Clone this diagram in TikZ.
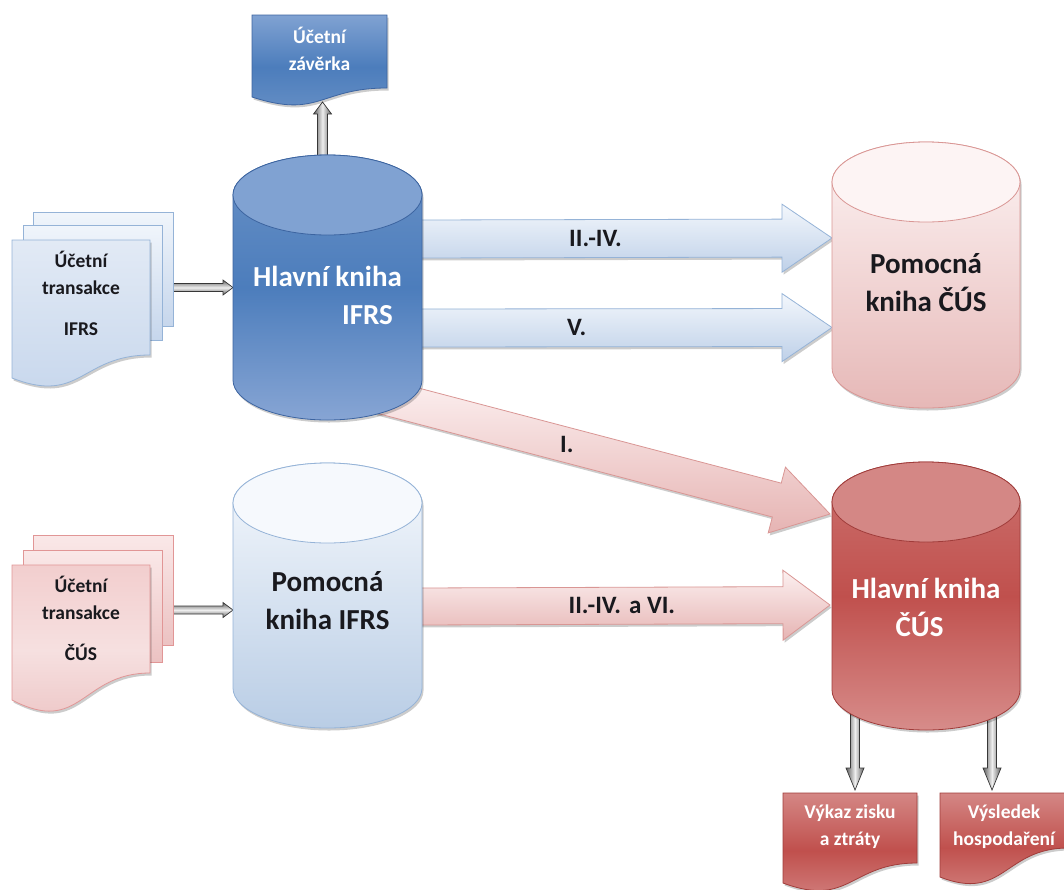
\documentclass[tikz,border=0pt]{standalone}
\usepackage{fontspec}
\setmainfont{Carlito}
\usetikzlibrary{calc,shadows}

% palette
\definecolor{inkdark}{RGB}{25,25,30}
\definecolor{blueedge}{RGB}{60,100,160}
\definecolor{bluetop}{RGB}{128,162,210}
\definecolor{bluebodyT}{RGB}{105,145,198}
\definecolor{bluebodyM}{RGB}{76,125,188}
\definecolor{bluebodyB}{RGB}{135,165,212}
\definecolor{paleblueedge}{RGB}{149,179,215}
\definecolor{paleblueT}{RGB}{246,249,253}
\definecolor{paleblueB}{RGB}{185,205,229}
\definecolor{rededge}{RGB}{160,60,58}
\definecolor{redtop}{RGB}{212,135,133}
\definecolor{redbodyT}{RGB}{205,115,112}
\definecolor{redbodyM}{RGB}{192,80,77}
\definecolor{redbodyB}{RGB}{215,140,138}
\definecolor{paleredge}{RGB}{217,150,148}
\definecolor{paleredT}{RGB}{253,244,244}
\definecolor{paleredB}{RGB}{230,184,183}
\definecolor{arrblueT}{RGB}{243,247,252}
\definecolor{arrblueB}{RGB}{190,208,232}
\definecolor{arrpinkT}{RGB}{252,240,240}
\definecolor{arrpinkB}{RGB}{230,180,179}
\definecolor{arrdark}{RGB}{95,95,95}
\definecolor{arrlite}{RGB}{238,238,238}
\definecolor{arrline}{RGB}{55,55,55}
\definecolor{pageblueT}{RGB}{226,234,245}
\definecolor{pageblueB}{RGB}{198,214,236}
\definecolor{pagebluebackT}{RGB}{240,245,251}
\definecolor{pageredT}{RGB}{242,206,206}
\definecolor{pageredM}{RGB}{246,224,224}
\definecolor{pageredB}{RGB}{236,194,194}
\definecolor{pageredbackT}{RGB}{250,232,232}
\definecolor{pageredge}{RGB}{225,150,150}

% cylinder drawn on the box of node #1: #2 x radius, #3 y radius, #4 body style, #5 lid style
\newcommand\cylshape[5]{%
  \path[#4] ($(#1.north west)+(0,-#3)$) -- ($(#1.south west)+(0,#3)$)
    arc[start angle=180, end angle=360, x radius=#2, y radius=#3]
    -- ($(#1.north east)+(0,-#3)$)
    arc[start angle=0, end angle=180, x radius=#2, y radius=#3] -- cycle;
  \path[#5] ($(#1.north)+(0,-#3)$) ellipse[x radius=#2, y radius=#3];
}

% document sheet with a wavy lower edge on the box of node #2:
% #3 rise of the right end above the bottom, #4 dip of the wave
\newcommand\docshape[4]{%
  \path[#1] (#2.north west) -- (#2.north east) -- ($(#2.south east)+(0,#3)$)
    .. controls ($(#2.south)+(0,#3)$) and ($(#2.south)+(0,-#4)$) .. (#2.south west) -- cycle;
}

% block arrow from #2 to the tip #3: #4 half shaft, #5 half head, #6 head length
\newcommand\blockarrow[6]{%
  \coordinate (ba-h) at ($(#3)!#6!(#2)$);
  \path[#1] ($(#2)!#4!90:(#3)$) -- ($(ba-h)!#4!90:(#3)$) -- ($(ba-h)!#5!90:(#3)$) -- (#3)
    -- ($(ba-h)!#5!-90:(#3)$) -- ($(ba-h)!#4!-90:(#3)$) -- ($(#2)!#4!-90:(#3)$) -- cycle;
}

\begin{document}
\begin{tikzpicture}[x=1pt,y=1pt,
  geom/.style={rectangle, inner sep=0pt, outer sep=0pt},
  softshadow/.style={drop shadow={shadow xshift=1.5pt, shadow yshift=-2.5pt, opacity=0.2, fill=black}},
  cyltxt/.style={font=\fontsize{29}{38}\selectfont\bfseries, inner sep=0pt},
  doctxt/.style={font=\fontsize{19.5}{27}\selectfont\bfseries, inner sep=0pt, align=center},
  arrlbl/.style={font=\fontsize{25}{27}\selectfont\bfseries, text=inkdark, inner sep=0pt},
  bluearrow/.style={draw=paleblueedge, line width=0.8pt, top color=arrblueT, bottom color=arrblueB, softshadow},
  pinkarrow/.style={draw=paleredge, line width=0.8pt, top color=arrpinkT, bottom color=arrpinkB, softshadow},
  grayh/.style={draw=arrline, line width=0.7pt, top color=arrdark, bottom color=arrdark, middle color=arrlite},
  grayv/.style={draw=arrline, line width=0.7pt, left color=arrdark, right color=arrdark, middle color=arrlite},
  cylAbody/.style={draw=blueedge, line width=0.8pt, top color=bluebodyT, bottom color=bluebodyB, middle color=bluebodyM, softshadow},
  cylAlid/.style={draw=blueedge, line width=0.8pt, fill=bluetop},
  cylBbody/.style={draw=paleblueedge, line width=0.8pt, top color=paleblueT, bottom color=paleblueB, softshadow},
  cylBlid/.style={draw=paleblueedge, line width=0.8pt, fill=paleblueT},
  cylCbody/.style={draw=rededge, line width=0.8pt, top color=redbodyT, bottom color=redbodyB, middle color=redbodyM, softshadow},
  cylClid/.style={draw=rededge, line width=0.8pt, fill=redtop},
  cylDbody/.style={draw=paleredge, line width=0.8pt, top color=paleredT, bottom color=paleredB, softshadow},
  cylDlid/.style={draw=paleredge, line width=0.8pt, fill=paleredT},
  bluedoc/.style={draw=blueedge, line width=0.8pt, top color=bluetop, bottom color=bluebodyT, middle color=bluebodyM, softshadow},
  reddoc/.style={draw=rededge, line width=0.8pt, top color=redtop, bottom color=redtop, middle color=redbodyM, softshadow},
  bluepage/.style={draw=paleblueedge, line width=0.8pt, top color=pageblueT, bottom color=pageblueB},
  bluebackpage/.style={draw=paleblueedge, line width=0.8pt, top color=pagebluebackT, bottom color=pageblueB},
  redpage/.style={draw=pageredge, line width=0.8pt, top color=pageredT, bottom color=pageredB, middle color=pageredM},
  redbackpage/.style={draw=pageredge, line width=0.8pt, top color=pageredbackT, bottom color=pageredB},
]
\useasboundingbox (0,-889) rectangle (1064,0);

% ---- boxes of the ledgers
\node[geom, minimum width=189pt, minimum height=265pt] (hifrs) at (327.5,-287.5) {};
\node[geom, minimum width=188pt, minimum height=266pt] (pcus)  at (926,-275) {};
\node[geom, minimum width=189pt, minimum height=265pt] (pifrs) at (327.5,-595.5) {};
\node[geom, minimum width=188pt, minimum height=268pt] (hcus)  at (926,-596) {};

% ---- boxes of the documents
\node[geom, minimum width=135pt, minimum height=82pt]  (zav)   at (319.5,-56) {};
\node[geom, minimum width=140pt, minimum height=114pt] (ifrs3) at (103,-269) {};
\node[geom, minimum width=139pt, minimum height=115pt] (ifrs2) at (92.5,-282.5) {};
\node[geom, minimum width=138pt, minimum height=138pt] (ifrs1) at (81,-309) {};
\node[geom, minimum width=140pt, minimum height=110pt] (cus3)  at (103,-590) {};
\node[geom, minimum width=139pt, minimum height=112pt] (cus2)  at (92.5,-606) {};
\node[geom, minimum width=138pt, minimum height=135pt] (cus1)  at (81,-632.5) {};
\node[geom, minimum width=134pt, minimum height=90pt]  (vz)    at (850,-838) {};
\node[geom, minimum width=128pt, minimum height=84pt]  (vh)    at (1004,-835) {};

% ---- transfer arrows between the ledgers
\coordinate (a1s) at ($(hifrs.east)+(-5,48.5)$);
\coordinate (a1t) at ($(pcus.west)+(0,37)$);
\blockarrow{bluearrow}{a1s}{a1t}{19pt}{34pt}{50pt}
\node[arrlbl] (l1) at ($(a1s)!0.43!(a1t)$) {II.-IV.};

\coordinate (a2s) at ($(hifrs.east)+(-5,-40.5)$);
\coordinate (a2t) at ($(pcus.west)+(0,-52.5)$);
\blockarrow{bluearrow}{a2s}{a2t}{19pt}{34pt}{50pt}
\node[arrlbl] (l2) at ($(a2s)!0.385!(a2t)$) {V.};

\coordinate (a3s) at ($(hifrs.south)+(52.5,24)$);
\coordinate (a3t) at ($(hcus.west)+(-2,82)$);
\blockarrow{pinkarrow}{a3s}{a3t}{17.5pt}{34pt}{55pt}
\node[arrlbl] (l3) at ($(a3s)!0.415!(a3t)$) {I.};

\coordinate (a4s) at ($(pifrs.east)+(-5,-11)$);
\coordinate (a4t) at ($(hcus.west)+(-2,-9)$);
\blockarrow{pinkarrow}{a4s}{a4t}{18.5pt}{35pt}{47pt}
\node[arrlbl] (l4) at ($(a4s)!0.496!(a4t)$) {II.-IV.\hspace{8pt}a VI.};

% ---- small grey arrows
\coordinate (s1t) at (hifrs.west);
\coordinate (s1s) at (ifrs3.east |- s1t);
\blockarrow{grayh}{s1s}{s1t}{4pt}{7.5pt}{10pt}

\coordinate (s2t) at ($(pifrs.west)+(0,-14.5)$);
\coordinate (s2s) at (cus3.east |- s2t);
\blockarrow{grayh}{s2s}{s2t}{4pt}{7.5pt}{10pt}

\coordinate (s3s) at ($(hifrs.north)+(-5,-15)$);
\coordinate (s3t) at ($(zav.south)+(3,-5)$);
\blockarrow{grayv}{s3s}{s3t}{5pt}{9pt}{12pt}

\coordinate (s4t) at ($(vz.north)+(5,3)$);
\coordinate (s4s) at ($(s4t |- hcus.south)+(0,30)$);
\blockarrow{grayv}{s4s}{s4t}{4.5pt}{9pt}{22pt}

\coordinate (s5t) at ($(vh.north)+(-12,3)$);
\coordinate (s5s) at ($(s5t |- hcus.south)+(0,30)$);
\blockarrow{grayv}{s5s}{s5t}{4.5pt}{9pt}{22pt}

% ---- documents
\path[bluebackpage] (ifrs3.north west) rectangle (ifrs3.south east);
\path[bluebackpage] (ifrs2.north west) rectangle (ifrs2.south east);
\docshape{bluepage, softshadow}{ifrs1}{23}{27}
\path[redbackpage] (cus3.north west) rectangle (cus3.south east);
\path[redbackpage] (cus2.north west) rectangle (cus2.south east);
\docshape{redpage, softshadow}{cus1}{27}{36}
\docshape{bluedoc}{zav}{9}{22}
\docshape{reddoc}{vz}{20}{25}
\docshape{reddoc}{vh}{29}{25}

% ---- ledgers
\cylshape{hifrs}{94.5pt}{40pt}{cylAbody}{cylAlid}
\cylshape{pcus}{94pt}{40pt}{cylDbody}{cylDlid}
\cylshape{pifrs}{94.5pt}{40pt}{cylBbody}{cylBlid}
\cylshape{hcus}{94pt}{40pt}{cylCbody}{cylClid}

% ---- texts
\node[cyltxt, text=white, align=right] (hifrs-t) at ($(hifrs)+(0,-7.5)$) {Hlavní kniha\\IFRS\hspace*{9pt}};
\node[cyltxt, text=inkdark, align=center] (pcus-t) at ($(pcus)+(0,-8)$) {Pomocná\\kniha ČÚS};
\node[cyltxt, text=inkdark, align=center] (pifrs-t) at ($(pifrs)+(0,-5.5)$) {Pomocná\\kniha IFRS};
\node[cyltxt, text=white, align=left] (hcus-t) at ($(hcus)+(0,-11)$) {Hlavní kniha\\\hspace*{44pt}ČÚS};

\node[doctxt, text=white] (zav-t) at ($(zav)+(0,7)$) {Účetní\\závěrka};
\node[doctxt, text=inkdark] (ifrs-t) at ($(ifrs1)+(0,16)$) {Účetní\\transakce\\[14pt]IFRS};
\node[doctxt, text=inkdark] (cus-t) at ($(cus1)+(0,14)$) {Účetní\\transakce\\[14pt]ČÚS};
\node[doctxt, text=white] (vz-t) at ($(vz)+(0,11.5)$) {Výkaz zisku\\a ztráty};
\node[doctxt, text=white] (vh-t) at ($(vh)+(0,8.5)$) {Výsledek\\hospodaření};
\end{tikzpicture}
\end{document}
